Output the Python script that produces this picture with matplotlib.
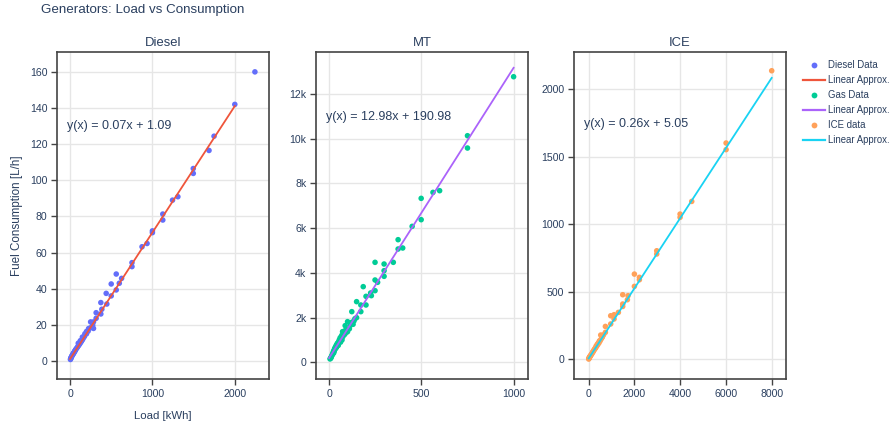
import matplotlib.pyplot as plt
from matplotlib.lines import Line2D

plt.rcParams['font.family'] = ['Liberation Sans', 'DejaVu Sans']

# Diesel generators: load [kWh] vs fuel [L/h]
diesel_load = [5, 8, 10, 15, 20, 25, 30, 35, 40, 45, 50, 55, 60, 65, 70, 80, 90, 100, 100,
               110, 120, 125, 130, 140, 150, 150, 160, 175, 180, 200, 200, 220, 225, 250,
               250, 275, 285, 285, 317, 317, 374, 374, 386, 439, 447, 500, 500, 561, 561,
               598, 626, 752, 752, 874, 935, 1000, 1000, 1126, 1126, 1244, 1309, 1496,
               1496, 1687, 1748, 2000, 2244]
diesel_fuel = [0.8, 1.2, 1.6, 2.0, 2.5, 2.9, 3.3, 3.6, 4.2, 4.3, 4.8, 5.2, 5.6, 5.9, 6.4,
               7.0, 7.6, 8.3, 9.8, 8.9, 9.6, 11.2, 10.3, 11.0, 11.7, 13.2, 12.5, 13.5, 15.0,
               15.0, 16.3, 16.5, 17.9, 18.4, 21.6, 19.8, 21.6, 18.0, 26.7, 23.6, 32.3, 26.0,
               28.6, 37.4, 31.5, 42.6, 36.0, 48.1, 39.3, 43.0, 45.7, 54.4, 52.2, 63.2, 65.0,
               72.0, 71.0, 81.3, 78.0, 89.0, 90.9, 106.5, 103.8, 116.5, 124.4, 142.0, 160.0]

# Gas micro-turbines
mt_load = [5, 8, 10, 12, 15, 18, 20, 22, 25, 25, 28, 30, 30, 33, 35, 38, 40, 40, 43, 45,
           48, 50, 50, 53, 55, 58, 60, 62, 65, 68, 70, 73, 75, 80, 85, 87, 90, 95, 100,
           100, 110, 115, 123, 123, 130, 135, 140, 149, 149, 172, 172, 185, 200, 200, 225,
           229, 249, 249, 249, 263, 298, 298, 298, 348, 374, 374, 399, 450, 499, 499, 563,
           599, 750, 750, 1000]
mt_fuel = [150, 180, 200, 250, 300, 350, 380, 450, 420, 520, 500, 560, 620, 600, 700, 650,
           780, 680, 720, 850, 800, 900, 760, 880, 1000, 950, 1100, 900, 1050, 1200, 1000,
           1371, 1150, 1300, 1250, 1640, 1450, 1350, 1818, 1371, 1500, 1650, 2265, 1788,
           1700, 1850, 1950, 2712, 1997, 2563, 2265, 3383, 2950, 2563, 3100, 2980, 4471,
           3681, 3204, 3577, 4396, 4098, 3845, 4471, 5484, 5067, 5112, 6080, 7332, 6378,
           7600, 7675, 10134, 9583, 12772]

# ICE generators
ice_load = [0, 10, 20, 30, 40, 50, 60, 80, 100, 120, 150, 170, 200, 220, 250, 270, 300,
            320, 350, 370, 400, 420, 450, 470, 500, 525, 550, 580, 600, 650, 729, 729, 962,
            962, 1108, 1108, 1297, 1487, 1487, 1487, 1691, 1720, 1997, 1997, 2216, 2216,
            2974, 2974, 3994, 3994, 4504, 6006, 6006, 8000]
ice_fuel = [0, 5, 8, 12, 14, 18, 20, 25, 30, 35, 42, 52, 55, 65, 70, 78, 82, 95, 95, 108,
            108, 120, 120, 135, 135, 178, 150, 160, 165, 180, 242, 198, 321, 260, 329, 297,
            346, 477, 408, 390, 440, 470, 630, 539, 606, 588, 803, 779, 1075, 1051, 1169,
            1602, 1553, 2138]

# fitted lines: (slope, intercept, x range)
fits = {
    'Diesel': (0.07, 1.09, [0, 2000]),
    'MT': (12.98, 190.98, [0, 1000]),
    'ICE': (0.26, 5.05, [0, 8000]),
}

text_c = '#2a3f5f'
frame_c = '#444444'
colors = {'Diesel': ('#636efa', '#ef553b'),
          'MT': ('#00cc96', '#ab63fa'),
          'ICE': ('#ffa15a', '#19d3f3')}

fig = plt.figure(figsize=(8.94, 4.24), dpi=100)
fig.text(41 / 894, 1 - 10 / 424, 'Generators: Load vs Consumption', fontsize=9.6,
         color=text_c, va='center', ha='left')

panels = [
    ('Diesel', diesel_load, diesel_fuel, 57, (-158, 2415), (-10, 171), [0, 1000, 2000],
     [0, 20, 40, 60, 80, 100, 120, 140, 160], None, 0.774),
    ('MT', mt_load, mt_fuel, 316, (-71, 1078), (-747, 13878), [0, 500, 1000],
     [0, 2000, 4000, 6000, 8000, 10000, 12000], ['0', '2k', '4k', '6k', '8k', '10k', '12k'], 0.80),
    ('ICE', ice_load, ice_fuel, 574, (-643, 8625), (-148, 2277), [0, 2000, 4000, 6000, 8000],
     [0, 500, 1000, 1500, 2000], None, 0.78),
]

for name, xs, ys, left, xlim, ylim, xt, yt, ytl, ty in panels:
    ax = fig.add_axes([left / 894, 45 / 424, 212 / 894, 327 / 424])
    pc, lc = colors[name]
    ax.scatter(xs, ys, s=16, color=pc, edgecolors='none', zorder=3)
    a, b, rng = fits[name]
    ax.plot(rng, [a * v + b for v in rng], color=lc, lw=1.3, zorder=4)
    ax.set_xlim(*xlim)
    ax.set_ylim(*ylim)
    ax.set_xticks(xt)
    ax.set_yticks(yt)
    if ytl:
        ax.set_yticklabels(ytl)
    ax.grid(color='#e6e6e6', lw=1)
    ax.set_axisbelow(True)
    for s in ax.spines.values():
        s.set_color(frame_c)
        s.set_linewidth(1.2)
    ax.tick_params(direction='out', length=4, width=1, color=frame_c,
                   labelcolor=text_c, labelsize=7.6, pad=3)
    ax.set_title(name, fontsize=9.4, color=text_c, pad=4)
    ax.text(0.045, ty, 'y(x) = %.2fx + %.2f' % (a, b), transform=ax.transAxes,
            fontsize=9.0, color=text_c, va='center', ha='left')
    if name == 'Diesel':
        ax.set_ylabel('Fuel Consumption [L/h]', fontsize=8.4, color=text_c, labelpad=5)
        ax.set_xlabel('Load [kWh]', fontsize=8.2, color=text_c, labelpad=9)

handles = [
    Line2D([], [], ls='none', marker='o', ms=4.2, color='#636efa', mec='none'),
    Line2D([], [], color='#ef553b', lw=1.6),
    Line2D([], [], ls='none', marker='o', ms=4.2, color='#00cc96', mec='none'),
    Line2D([], [], color='#ab63fa', lw=1.6),
    Line2D([], [], ls='none', marker='o', ms=4.2, color='#ffa15a', mec='none'),
    Line2D([], [], color='#19d3f3', lw=1.6),
]
labels = ['Diesel Data', 'Linear Approx.', 'Gas Data', 'Linear Approx.', 'ICE data',
          'Linear Approx.']
fig.legend(handles, labels, loc='upper left', bbox_to_anchor=(803 / 894, 1 - 60 / 424),
           frameon=False, fontsize=6.9, labelcolor=text_c, handlelength=2.3,
           handletextpad=0.35, labelspacing=0.52, borderaxespad=0, borderpad=0)

fig.savefig('out.png', dpi=100)
